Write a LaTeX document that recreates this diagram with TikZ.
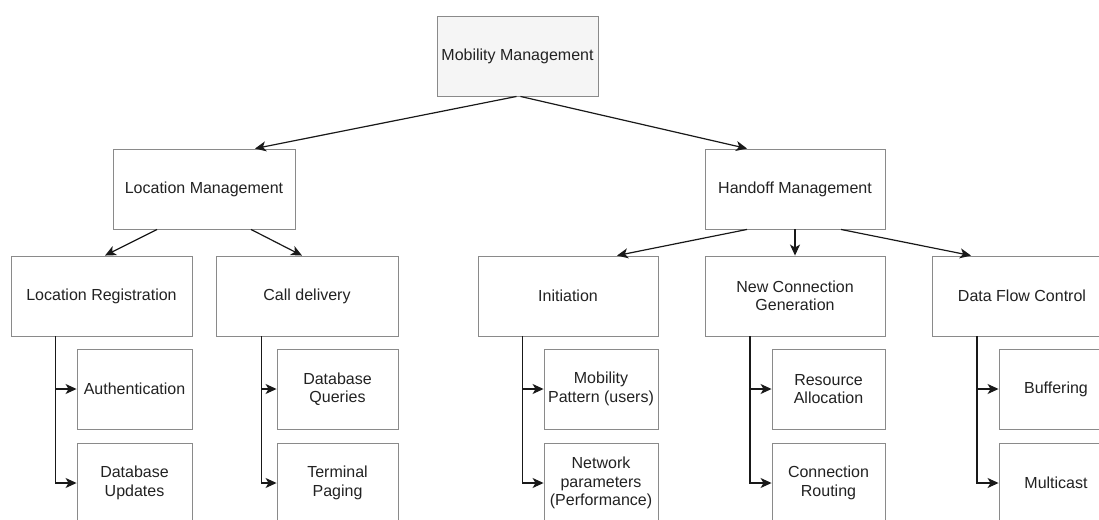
\documentclass[tikz,border=0pt]{standalone}
\usepackage{fontspec}
\setmainfont{Liberation Sans}
\usetikzlibrary{arrows.meta,calc}

\definecolor{boxline}{HTML}{8A8A8A}
\definecolor{rootfill}{HTML}{F5F5F5}
\definecolor{txt}{HTML}{222222}

\tikzset{
  box/.style={draw=boxline, line width=0.9pt, fill=white, rectangle,
    minimum height=80pt, inner sep=2pt, align=center, text=txt,
    font=\fontsize{16}{18.5}\selectfont},
  rootbox/.style={box, fill=rootfill},
  conn/.style={draw=black!90, line width=1.2pt,
    -{Stealth[length=11pt,width=10pt,inset=3pt]}}
}

\begin{document}
\begin{tikzpicture}[x=1pt,y=-1pt]
\useasboundingbox (0,0) rectangle (1099,519);
\clip (0,0) rectangle (1099,519);
\fill[white] (0,0) rectangle (1099,519);

% root
\node[rootbox, minimum width=161pt] (mm) at (517.5,56) {Mobility Management};

% second level
\node[box, minimum width=182pt] (lm) at (204,189) {Location Management};
\node[box, minimum width=180pt] (hm) at (795,189) {Handoff Management};

% third level
\node[box, minimum width=181pt] (lr)   at (101.5,296) {Location Registration};
\node[box, minimum width=182pt] (cd)   at (307,296)   {Call delivery};
\node[box, minimum width=180pt] (ini)  at (568,296)   {Initiation};
\node[box, minimum width=180pt] (ncg)  at (795,296)   {New Connection\\Generation};
\node[box, minimum width=180pt] (dfc)  at (1022,296)  {Data Flow Control};

% leaves
\node[box, minimum width=115pt] (auth) at (134.5,389) {Authentication};
\node[box, minimum width=115pt] (dbu)  at (134.5,483) {Database\\Updates};
\node[box, minimum width=121pt] (dbq)  at (337.5,389) {Database\\Queries};
\node[box, minimum width=121pt] (tp)   at (337.5,483) {Terminal\\Paging};
\node[box, minimum width=114pt] (mp)   at (601,389)   {Mobility\\Pattern (users)};
\node[box, minimum width=114pt] (np)   at (601,483)   {Network\\parameters\\(Performance)};
\node[box, minimum width=113pt] (ra)   at (828.5,389) {Resource\\Allocation};
\node[box, minimum width=113pt] (cr)   at (828.5,483) {Connection\\Routing};
\node[box, minimum width=114pt] (buf)  at (1056,389)  {Buffering};
\node[box, minimum width=114pt] (mc)   at (1056,483)  {Multicast};

% root to second level
\path[conn] ([xshift=-1pt]mm.south) -- ([xshift=51pt]lm.north);
\path[conn] ([xshift=3pt]mm.south) -- ([xshift=-48pt]hm.north);

% second to third level
\path[conn] ([xshift=-47pt]lm.south) -- ([xshift=3.5pt]lr.north);
\path[conn] ([xshift=47pt]lm.south) -- ([xshift=-5pt]cd.north);
\path[conn] ([xshift=-48pt]hm.south) -- ([xshift=49pt]ini.north);
\path[conn] (hm.south) -- (ncg.north);
\path[conn] ([xshift=46pt]hm.south) -- ([xshift=-51pt]dfc.north);

% third level to leaves
\path[conn] ([xshift=45pt]lr.south west)  |- (auth.west);
\path[conn] ([xshift=45pt]lr.south west)  |- (dbu.west);
\path[conn] ([xshift=46pt]cd.south west)  |- (dbq.west);
\path[conn] ([xshift=46pt]cd.south west)  |- (tp.west);
\path[conn] ([xshift=45pt]ini.south west) |- (mp.west);
\path[conn] ([xshift=45pt]ini.south west) |- (np.west);
\path[conn] ([xshift=45.5pt]ncg.south west) |- (ra.west);
\path[conn] ([xshift=45.5pt]ncg.south west) |- (cr.west);
\path[conn] ([xshift=45.5pt]dfc.south west) |- (buf.west);
\path[conn] ([xshift=45.5pt]dfc.south west) |- (mc.west);
\end{tikzpicture}
\end{document}
